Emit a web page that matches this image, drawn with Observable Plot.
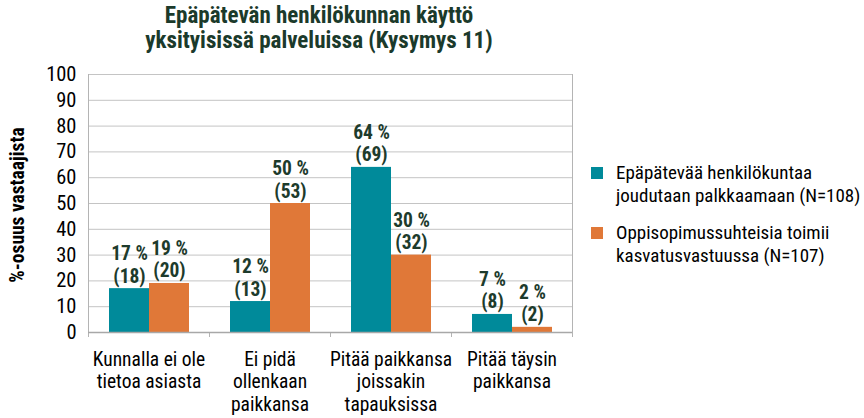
<!DOCTYPE html>
<html>
<head>
<meta charset="utf-8">
<script src="https://cdn.jsdelivr.net/npm/d3@7"></script>
<script src="https://cdn.jsdelivr.net/npm/@observablehq/plot@0.6"></script>
<style>
  html, body { margin: 0; padding: 0; background: #fff; }
  #wrap { position: relative; width: 864px; height: 418px; overflow: hidden; font-family: Roboto, 'Open Sans', sans-serif; font-stretch: condensed; }
  #chart { position: absolute; left: 0; top: 0; }
  #title { position: absolute; left: 0; top: 3px; width: 638px; text-align: center; font-weight: bold; font-size: 23px; line-height: 25px; color: #1b3a2b; }
  #ylabel { position: absolute; left: -82px; top: 194px; width: 200px; height: 22px; line-height: 22px; text-align: center; font-weight: bold; font-size: 19.5px; color: #000; transform: rotate(-90deg); transform-origin: 100px 11px; }
  .leg { position: absolute; left: 591px; }
  .leg .sw { position: absolute; left: 0; width: 12px; height: 12px; }
  .leg .tx { position: absolute; left: 25px; width: 260px; font-size: 19px; line-height: 22.6px; color: #000; white-space: nowrap; }
</style>
</head>
<body>
<div id="wrap">
  <div id="chart"></div>
  <div id="title"></div>
  <div id="ylabel"></div>
  <div id="legend"></div>
</div>
<script>
const titleLines = ["Epäpätevän henkilökunnan käyttö", "yksityisissä palveluissa (Kysymys 11)"];
const yAxisLabel = "%-osuus vastaajista";
const categories = ["Kunnalla ei ole\ntietoa asiasta", "Ei pidä\nollenkaan\npaikkansa", "Pitää paikkansa\njoissakin\ntapauksissa", "Pitää täysin\npaikkansa"];
const series = ["Epäpätevää henkilökuntaa\njoudutaan palkkaamaan (N=108)", "Oppisopimussuhteisia toimii\nkasvatusvastuussa (N=107)"];
const colors = ["#008a9a", "#e07838"];
const pctA = [17, 12, 64, 7];
const countA = [18, 13, 69, 8];
const pctB = [19, 50, 30, 2];
const countB = [20, 53, 32, 2];
const yTicks = [0, 10, 20, 30, 40, 50, 60, 70, 80, 90, 100];

const FONT = "Roboto, 'Open Sans', sans-serif";

const rows = [];
categories.forEach((c, i) => {
  rows.push({category: c, series: series[0], pct: pctA[i], n: countA[i]});
  rows.push({category: c, series: series[1], pct: pctB[i], n: countB[i]});
});

const plotHeight = 418 - 74 - 86;

const chart = Plot.plot({
  width: 864,
  height: 418,
  marginLeft: 87,
  marginRight: 291,
  marginTop: 74,
  marginBottom: 86,
  style: {fontFamily: FONT, fontStretch: "condensed", fontSize: "20.5px", color: "#000", background: "transparent", overflow: "visible"},
  fx: {domain: categories, padding: 0, axis: null},
  x: {domain: series, paddingInner: 0, paddingOuter: 0.5, axis: null},
  y: {domain: [0, 100], ticks: yTicks, tickSize: 0, tickPadding: 12, label: null},
  color: {domain: series, range: colors},
  marks: [
    Plot.ruleY(yTicks, {stroke: "#c4c4c4", strokeWidth: 1}),
    Plot.frame({anchor: "left", facet: "super", stroke: "#b4b4b4", insetBottom: -4}),
    Plot.frame({anchor: "right", facet: "super", stroke: "#b4b4b4", insetBottom: -4}),
    Plot.frame({anchor: "left", stroke: "#b4b4b4", insetTop: plotHeight, insetBottom: -4}),
    Plot.barY(rows, {fx: "category", x: "series", y: "pct", fill: "series"}),
    Plot.ruleY([0], {stroke: "#a8a8a8", strokeWidth: 1.5}),
    Plot.text(rows, {fx: "category", x: "series", y: "pct", text: d => `${d.pct} %\n(${d.n})`, lineAnchor: "bottom", dy: -6, fontWeight: "bold", fontSize: 19.5, lineHeight: 1.15, fill: "#1d3b2c"}),
    Plot.text(categories, {fx: d => d, text: d => d, frameAnchor: "bottom", lineAnchor: "top", dy: 17, fontSize: 19.5, lineHeight: 1.16, fill: "#000"})
  ]
});
document.getElementById("chart").appendChild(chart);

document.getElementById("title").innerHTML = titleLines.join("<br>");
document.getElementById("ylabel").textContent = yAxisLabel;

const legend = document.getElementById("legend");
const legTops = [162, 222];
series.forEach((s, i) => {
  const item = document.createElement("div");
  item.className = "leg";
  item.style.top = legTops[i] + "px";
  const sw = document.createElement("div");
  sw.className = "sw";
  sw.style.background = colors[i];
  sw.style.top = "5px";
  const tx = document.createElement("div");
  tx.className = "tx";
  tx.style.top = "0px";
  tx.innerHTML = s.split("\n").join("<br>");
  item.appendChild(sw);
  item.appendChild(tx);
  legend.appendChild(item);
});
</script>
</body>
</html>
